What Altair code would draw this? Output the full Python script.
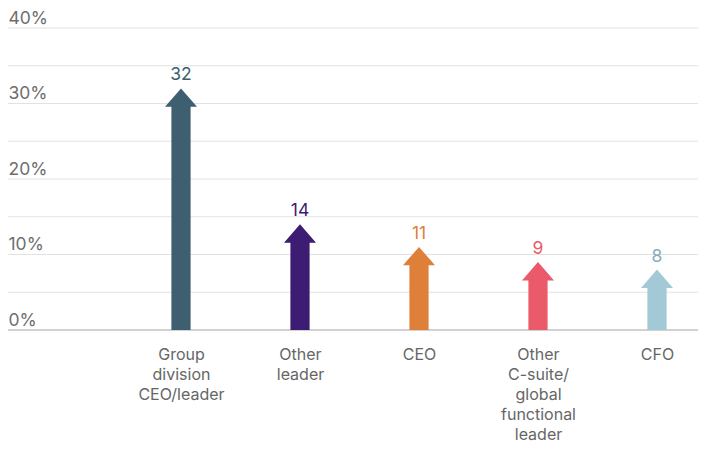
import altair as alt
import pandas as pd

categories = ["Group|division|CEO/leader", "Other|leader", "CEO",
              "Other|C-suite/|global|functional|leader", "CFO"]
values = [32, 14, 11, 9, 8]
colors = ["#3e5f70", "#3d1c74", "#de7f3a", "#ea5a6a", "#a3c8d6"]
label_colors = ["#3e5f70", "#3d1c74", "#de7f3a", "#ea5a6a", "#88abba"]
grid_values = [5, 10, 15, 20, 25, 30, 35, 40]
label_values = [0, 10, 20, 30, 40]

df = pd.DataFrame({"cat": categories, "value": values, "color": colors,
                   "lcolor": label_colors})
grid_df = pd.DataFrame({"g": grid_values})
base_df = pd.DataFrame({"g": [0]})

FONT = "Inter"
ARROW = "M0,0L1,1.15L0.6,1.15L0.6,40L-0.6,40L-0.6,1.15L-1,1.15Z"

xscale = alt.Scale(type="point", range=[173, 649], padding=0)
yscale = alt.Scale(domain=[0, 40], nice=False, zero=True)

x = alt.X("cat:N", sort=categories, scale=xscale,
          axis=alt.Axis(title=None, domain=False, ticks=False, grid=False,
                        labelAngle=0, labelExpr="split(datum.label, '|')",
                        labelFont=FONT, labelFontSize=16, labelColor="#666666",
                        labelLineHeight=20, labelPadding=16,
                        labelAlign="center", labelBaseline="top"))

y = alt.Y("value:Q", scale=yscale,
          axis=alt.Axis(title=None, values=label_values, domain=False, ticks=False,
                        tickSize=0, grid=False,
                        labelExpr="datum.value + '%'",
                        labelAlign="left", labelBaseline="alphabetic",
                        labelPadding=0, labelOffset=-5,
                        labelFont=FONT, labelFontSize=17.5, labelColor="#6e6e6e"))

grid = alt.Chart(grid_df).mark_rule(color="#e2e2e2", strokeWidth=1).encode(
    y=alt.Y("g:Q", scale=yscale))
baseline = alt.Chart(base_df).mark_rule(color="#d2d2d2", strokeWidth=2).encode(
    y=alt.Y("g:Q", scale=yscale))

arrows = alt.Chart(df).mark_point(
    shape=ARROW, size=1024, filled=True, opacity=1, clip=True, strokeWidth=0
).encode(x=x, y=y, color=alt.Color("color:N", scale=None))

labels = alt.Chart(df).mark_text(
    dy=-8, baseline="alphabetic", align="center", font=FONT, fontSize=17.5
).encode(x=alt.X("cat:N", sort=categories), y="value:Q",
         text=alt.Text("value:Q"), color=alt.Color("lcolor:N", scale=None))

chart = alt.layer(grid, baseline, arrows, labels).properties(
    width=690, height=302,
    autosize=alt.AutoSizeParams(type="none"),
    padding={"left": 0, "top": 20, "right": 0, "bottom": 114},
).configure_view(stroke=None)

chart.save("out.html", embed_options={"renderer": "svg", "actions": False})
